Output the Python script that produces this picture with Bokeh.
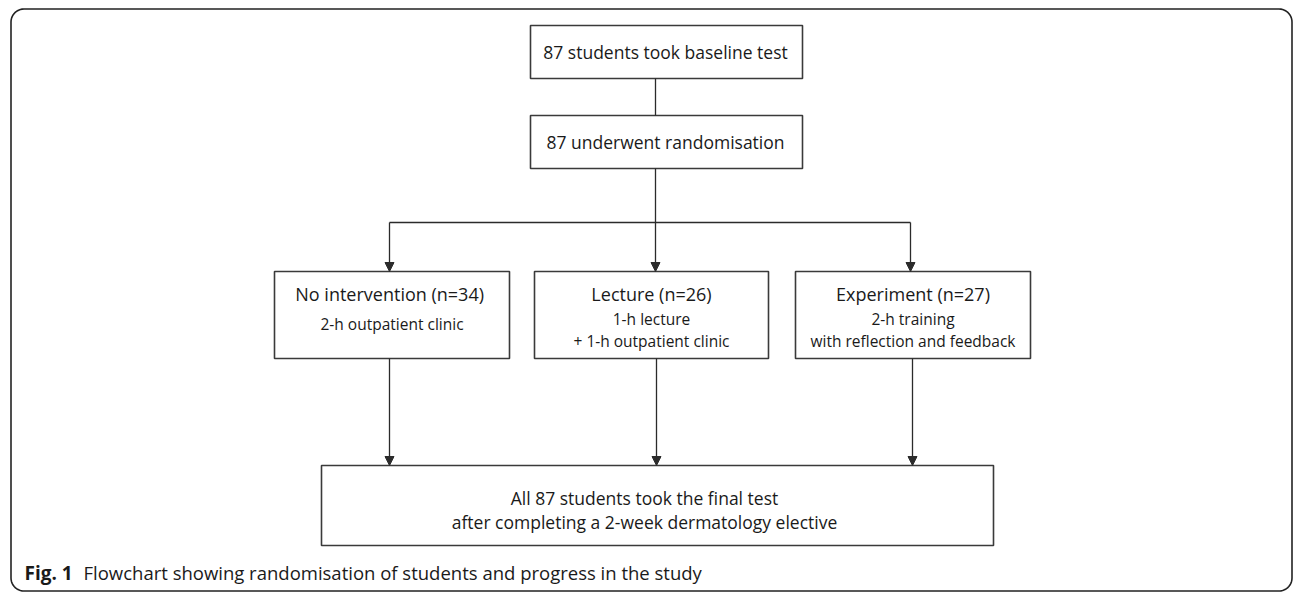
import numpy as np
from bokeh.plotting import figure
from bokeh.models import Range1d, Arrow, NormalHead
from bokeh.core.properties import value
from bokeh.embed import file_html
from bokeh.resources import INLINE

# ---- content ----
top_labels = ["87 students took baseline test", "87 underwent randomisation"]
group_titles = ["No intervention  (n=34)", "Lecture (n=26)", "Experiment (n=27)"]
group_lines = [["2-h outpatient clinic"],
               ["1-h lecture", "+ 1-h outpatient clinic"],
               ["2-h training", "with reflection and feedback"]]
final_lines = ["All 87 students took the final test",
               "after completing a 2-week dermatology elective"]
caption_bold = "Fig. 1"
caption_text = "Flowchart showing randomisation of students and progress in the study"

# ---- layout (pixel coordinates of the picture) ----
W, H = 1293, 592
p = figure(width=W, height=H, x_range=Range1d(0, W), y_range=Range1d(H, 0),
           output_backend="svg", toolbar_location=None, min_border=0)
p.axis.visible = False
p.grid.visible = False
p.outline_line_color = None
p.background_fill_color = "white"
p.border_fill_color = "white"

FONT = value("Open Sans")
LC = "#2b2b2b"
BC = "#3a3a3a"

# rounded frame
def rounded(x0, y0, x1, y1, r):
    xs, ys = [], []
    for cx, cy, a0 in [(x1 - r, y0 + r, -90), (x1 - r, y1 - r, 0), (x0 + r, y1 - r, 90), (x0 + r, y0 + r, 180)]:
        t = np.radians(np.linspace(a0, a0 + 90, 12))
        xs += list(cx + r * np.cos(t)); ys += list(cy + r * np.sin(t))
    xs.append(xs[0]); ys.append(ys[0])
    return xs, ys

fx, fy = rounded(10.5, 8.5, 1291.5, 590.5, 13)
p.line(fx, fy, line_color="#222222", line_width=1.6)

def box(x0, x1, y0, y1):
    p.quad(left=x0, right=x1, top=y0, bottom=y1, fill_color="white",
           line_color=BC, line_width=1.6)

def txt(x, y, s, size, style="normal", align="center"):
    p.text(x=[x], y=[y], text=[s], text_font=FONT, text_font_size=size,
           text_align=align, text_baseline="middle", text_color="#1a1a1a",
           text_font_style=style)

def arrow(x, y0, y1):
    p.add_layout(Arrow(end=NormalHead(size=9, fill_color=LC, line_color=LC, line_width=1),
                       x_start=x, y_start=y0, x_end=x, y_end=y1,
                       line_color=LC, line_width=1.3))

# top boxes
top_y = [(25, 78), (115, 168)]
for (y0, y1), s in zip(top_y, top_labels):
    box(530, 802, y0, y1)
    txt(665, (y0 + y1) / 2, s, "17.5px")
p.line([655, 655], [78, 115], line_color=LC, line_width=1.3)
p.line([655, 655], [168, 222], line_color=LC, line_width=1.3)
p.line([389, 910], [222, 222], line_color=LC, line_width=1.3)

# group boxes
gx = [(274, 509), (534, 768), (795, 1030)]
arr_in = [389, 655, 910]
arr_out = [389, 656, 912]
for i, (x0, x1) in enumerate(gx):
    arrow(arr_in[i], 222, 271)
    box(x0, x1, 271, 358)
    cx = (x0 + x1) / 2
    txt(cx, 293, group_titles[i], "18px")
    if len(group_lines[i]) == 1:
        txt(cx, 323, group_lines[i][0], "15.5px")
    else:
        txt(cx, 318, group_lines[i][0], "15.5px")
        txt(cx, 340, group_lines[i][1], "15.5px")
    arrow(arr_out[i], 358, 465)

# final box
box(321, 993, 465, 545)
txt(644, 497, final_lines[0], "17.5px")
txt(644, 521, final_lines[1], "17.5px")

# caption
p.text(x=[24], y=[572], text=[caption_bold], text_font=FONT, text_font_size="19px",
       text_font_style="bold", text_align="left", text_baseline="middle", text_color="#1a1a1a")
p.text(x=[83], y=[572], text=[caption_text], text_font=FONT, text_font_size="18.5px",
       text_align="left", text_baseline="middle", text_color="#1a1a1a")

open("out.html", "w").write(file_html(p, INLINE))
